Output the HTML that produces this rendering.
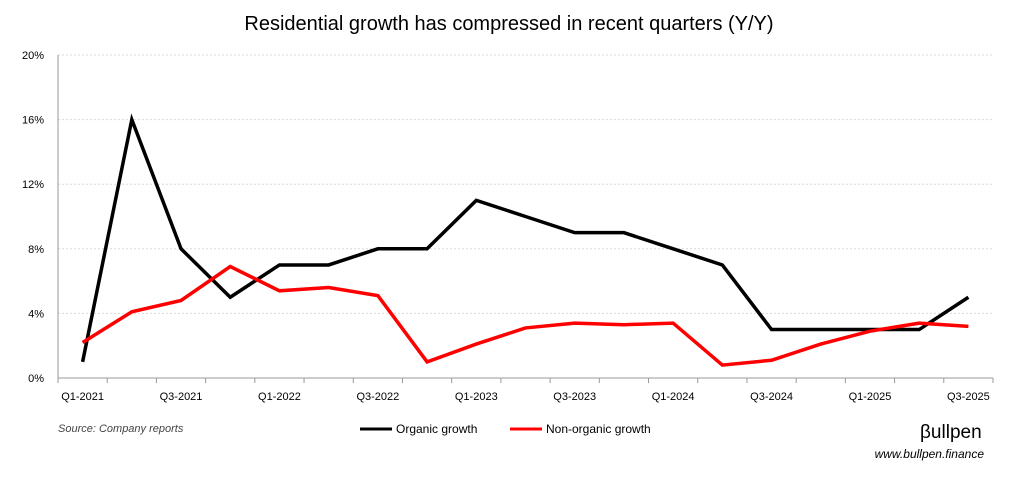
<!DOCTYPE html>
<html><head><meta charset="utf-8"><style>
body{margin:0;background:#fff;width:1021px;height:477px;overflow:hidden;font-family:"Liberation Sans",sans-serif}
</style></head><body>
<svg width="1021" height="477" id="svg" font-family="Liberation Sans, sans-serif">
<text x="509" y="30" text-anchor="middle" font-size="20" fill="#000">Residential growth has compressed in recent quarters (Y/Y)</text>
<g id="grid"></g><g id="axes"></g><g id="lines"></g>
<text x="58" y="432" font-size="11" font-style="italic" fill="#444">Source: Company reports</text>
<g>
<line x1="360" y1="429" x2="392" y2="429" stroke="#000" stroke-width="3"/>
<text x="396" y="433" font-size="12">Organic growth</text>
<line x1="510" y1="429" x2="542" y2="429" stroke="#f00" stroke-width="3"/>
<text x="546" y="433" font-size="12">Non-organic growth</text>
</g>
<text x="920" y="438" font-size="19" fill="#000">βullpen</text>
<text x="984" y="458" text-anchor="end" font-size="12" font-style="italic">www.bullpen.finance</text>
</svg>
<script>
const categories=["Q1-2021","Q2-2021","Q3-2021","Q4-2021","Q1-2022","Q2-2022","Q3-2022","Q4-2022","Q1-2023","Q2-2023","Q3-2023","Q4-2023","Q1-2024","Q2-2024","Q3-2024","Q4-2024","Q1-2025","Q2-2025","Q3-2025"];
const organic=[1,16,8,5,7,7,8,8,11,10,9,9,8,7,3,3,3,3,5];
const nonOrganic=[2.2,4.1,4.8,6.9,5.4,5.6,5.1,1.0,2.1,3.1,3.4,3.3,3.4,0.8,1.1,2.1,2.9,3.4,3.2];
const yTicks=[0,4,8,12,16,20];
const NS="http://www.w3.org/2000/svg";
const L=58,R=993,T=55,B=378,yMax=20;
const step=(R-L)/categories.length;
const x=i=>L+step*(i+0.5);
const y=v=>B-v/yMax*(B-T);
function mk(t,a,p){const e=document.createElementNS(NS,t);for(const k in a)e.setAttribute(k,a[k]);p.appendChild(e);return e;}
const grid=document.getElementById('grid'),axes=document.getElementById('axes'),lines=document.getElementById('lines');
yTicks.forEach(v=>{
 if(v>0){const g=mk('line',{x1:L,x2:R,y1:y(v),y2:y(v),stroke:'#d9d9d9','stroke-dasharray':'2,2'},grid);
 
 }
 const t=mk('text',{x:L-14,y:y(v)+4,'text-anchor':'end','font-size':11},axes);t.textContent=v+'%';
 
 
});
const ax=mk('line',{x1:L,x2:L,y1:T,y2:B,stroke:'#999'},axes);


const bx=mk('line',{x1:L,x2:R,y1:B,y2:B,stroke:'#999'},axes);


for(let i=0;i<=categories.length;i++){const tk=mk('line',{x1:L+step*i,x2:L+step*i,y1:B,y2:B+5,stroke:'#999'},axes);
 
 }
categories.forEach((c,i)=>{if(i%2==0){const t=mk('text',{x:x(i),y:B+22,'text-anchor':'middle','font-size':11},axes);t.textContent=c;
 
 }});
function series(d,col,name){const p=mk('polyline',{points:d.map((v,i)=>x(i)+','+y(v)).join(' '),fill:'none',stroke:col,'stroke-width':3.5,'stroke-linejoin':'miter'},lines);
 
 }
series(organic,'#000','organic-growth-line');
series(nonOrganic,'#f00','non-organic-growth-line');
</script>
</body></html>
